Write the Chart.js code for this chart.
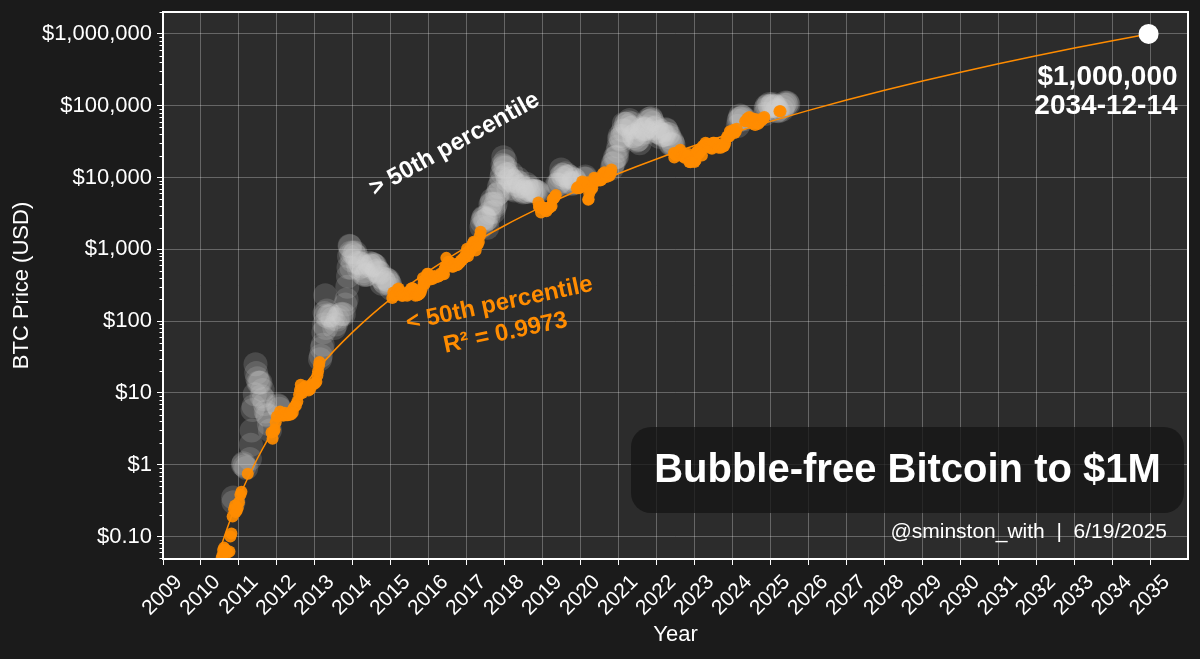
<!DOCTYPE html>
<html lang="en">
<head>
  <meta charset="UTF-8" />
  <script src="https://cdn.jsdelivr.net/npm/chart.js"></script>
  <title>Bubble-free Bitcoin to $1M</title>
  <style>
    html, body { margin: 0; padding: 0; background: #1b1b1b; }
    #wrap { width: 1200px; height: 659px; position: relative; }
  </style>
</head>
<body>
  <div id="wrap"><canvas id="grafico"></canvas></div>
  <script>
    // Precio BTC por debajo del percentil 50 (naranja)
    const belowMedian = [
      ["2010-07-17",0.05],["2010-07-25",0.055],["2010-08-01",0.065],["2010-08-10",0.07],["2010-08-20",0.066],
      ["2010-09-01",0.062],["2010-09-15",0.06],["2010-10-01",0.062],["2010-10-10",0.10],["2010-10-20",0.11],
      ["2010-11-01",0.19],["2010-11-15",0.24],["2010-11-25",0.27],["2010-12-01",0.22],["2010-12-10",0.23],
      ["2010-12-20",0.25],["2011-01-01",0.30],["2011-01-15",0.38],["2011-01-25",0.42],["2011-03-25",0.75],
      ["2011-11-10",2.8],["2011-11-20",2.3],["2011-12-01",2.9],["2011-12-10",3.1],["2011-12-20",3.9],
      ["2012-01-01",4.7],["2012-02-01",5.5],["2012-02-15",4.9],["2012-03-01",4.8],["2012-03-15",5.3],
      ["2012-04-01",4.9],["2012-04-15",4.9],["2012-05-01",5.0],["2012-05-15",5.0],["2012-06-01",5.3],
      ["2012-06-15",6.3],["2012-07-01",6.7],["2012-07-15",7.6],["2012-08-01",9.4],["2012-08-10",11],
      ["2012-08-17",13],["2012-08-25",10.5],["2012-09-01",10],["2012-09-15",11.8],["2012-10-01",12.4],
      ["2012-10-15",11.8],["2012-11-01",10.8],["2012-11-15",11.2],["2012-12-01",12.6],["2012-12-15",13.3],
      ["2013-01-01",13.5],["2013-01-15",14.3],["2013-01-25",17.5],["2013-02-01",20],["2013-02-10",24],
      ["2013-02-15",27],
      ["2015-01-15",210],["2015-01-25",250],["2015-02-05",225],["2015-02-15",235],["2015-02-25",240],
      ["2015-03-05",275],["2015-03-15",285],["2015-03-25",250],["2015-04-05",255],["2015-04-15",225],
      ["2015-04-25",225],["2015-05-05",240],["2015-05-15",237],["2015-05-25",240],["2015-06-05",225],
      ["2015-06-15",235],["2015-06-25",245],["2015-07-05",260],["2015-07-15",285],["2015-07-25",290],
      ["2015-08-05",280],["2015-08-15",260],["2015-08-25",225],["2015-09-05",235],["2015-09-15",230],
      ["2015-09-25",235],["2015-10-05",240],["2015-10-15",255],["2015-10-25",285],["2015-11-05",400],
      ["2015-11-12",340],["2015-11-20",325],["2015-11-28",360],["2015-12-05",390],["2015-12-15",455],
      ["2015-12-25",455],["2016-01-05",430],["2016-01-15",380],["2016-01-25",395],["2016-02-05",385],
      ["2016-02-15",405],["2016-02-25",425],["2016-03-05",410],["2016-03-15",415],["2016-03-25",415],
      ["2016-04-05",420],["2016-04-15",430],["2016-04-25",460],["2016-05-05",450],["2016-05-15",455],
      ["2016-05-25",450],["2016-06-01",535],["2016-06-10",575],["2016-06-17",760],["2016-06-25",620],
      ["2016-07-05",670],["2016-07-15",665],["2016-07-25",655],["2016-08-05",580],["2016-08-15",570],
      ["2016-08-25",575],["2016-09-05",610],["2016-09-15",610],["2016-09-25",600],["2016-10-05",610],
      ["2016-10-15",640],["2016-10-25",655],["2016-11-05",700],["2016-11-15",710],["2016-11-25",740],
      ["2016-12-05",765],["2016-12-15",780],["2016-12-25",890],["2017-01-03",1020],["2017-01-12",800],
      ["2017-01-20",895],["2017-01-28",920],["2017-02-05",1020],["2017-02-15",1010],["2017-02-25",1180],
      ["2017-03-05",1270],["2017-03-15",1240],["2017-03-25",960],["2017-04-05",1130],["2017-04-15",1180],
      ["2017-04-25",1260],["2017-05-05",1550],["2017-05-12",1750],
      ["2018-11-20",4500],["2018-11-25",3900],["2018-12-05",3800],["2018-12-15",3250],["2018-12-25",3900],
      ["2019-01-05",3800],["2019-01-15",3600],["2019-01-25",3550],["2019-02-05",3400],["2019-02-15",3600],
      ["2019-02-25",3800],["2019-03-05",3800],["2019-03-15",3900],["2019-03-25",4000],["2019-04-05",5000],
      ["2019-04-15",5100],["2019-04-25",5400],["2019-05-05",5700],
      ["2019-11-25",7100],["2019-12-05",7400],["2019-12-15",7100],["2019-12-25",7300],["2020-01-05",7400],
      ["2020-01-15",8800],["2020-01-25",8400],["2020-03-01",8600],["2020-03-08",8000],["2020-03-12",4900],
      ["2020-03-16",5000],["2020-03-22",6000],["2020-04-01",6600],["2020-04-10",6900],["2020-04-20",7100],
      ["2020-04-30",8700],["2020-05-08",9900],["2020-05-15",9300],["2020-05-25",8900],["2020-06-05",9700],
      ["2020-06-15",9400],["2020-06-25",9200],["2020-07-05",9100],["2020-07-15",9200],["2020-07-25",9600],
      ["2020-08-01",11300],["2020-08-15",11800],["2020-08-25",11400],["2020-09-05",10200],["2020-09-15",10900],
      ["2020-09-25",10700],["2020-10-05",10600],["2020-10-15",11500],["2020-10-22",12900],
      ["2022-06-14",22000],["2022-06-18",19000],["2022-06-25",21200],["2022-07-05",20200],["2022-07-15",20800],
      ["2022-07-25",22600],["2022-08-05",22900],["2022-08-15",24300],["2022-08-25",21500],["2022-09-05",19800],
      ["2022-09-15",19700],["2022-09-25",18800],["2022-10-05",20300],["2022-10-15",19100],["2022-10-25",20100],
      ["2022-11-05",21300],["2022-11-10",16500],["2022-11-20",16300],["2022-11-30",17100],["2022-12-10",17100],
      ["2022-12-20",16800],["2022-12-30",16500],["2023-01-10",17400],["2023-01-20",22700],["2023-01-30",23100],
      ["2023-02-10",21600],["2023-02-20",24800],["2023-03-01",23600],["2023-03-10",20200],["2023-03-18",27400],
      ["2023-03-28",27100],["2023-04-05",28200],["2023-04-14",30500],["2023-04-25",28300],["2023-05-05",29500],
      ["2023-05-15",27200],["2023-05-25",26500],["2023-06-05",25700],["2023-06-15",25100],["2023-06-25",30500],
      ["2023-07-05",30500],["2023-07-15",30300],["2023-07-25",29200],["2023-08-05",29000],["2023-08-18",26000],
      ["2023-08-30",27300],["2023-09-10",25900],["2023-09-20",27100],["2023-09-30",27000],["2023-10-10",27400],
      ["2023-10-20",29700],["2023-10-30",34500],["2023-11-10",37300],["2023-11-20",37400],["2023-11-30",37700],
      ["2023-12-05",44000],["2023-12-15",42000],["2023-12-25",43000],["2024-01-05",44100],["2024-01-11",46300],
      ["2024-01-20",41600],["2024-01-30",43300],["2024-02-10",47700],
      ["2024-04-30",60600],["2024-05-10",60800],["2024-05-20",66000],["2024-05-30",67500],["2024-06-10",69500],
      ["2024-06-20",64900],["2024-06-30",62700],["2024-07-05",56700],["2024-07-15",64700],["2024-07-25",65800],
      ["2024-08-05",54000],["2024-08-15",57600],["2024-08-25",64200],["2024-09-05",56200],["2024-09-15",59100],
      ["2024-09-25",64100],["2024-10-05",62100],["2024-10-15",67000],["2024-10-25",66600],["2024-11-01",69400],
      ["2025-03-25",84000],["2025-04-05",83500]
    ];

    // Precio BTC por encima del percentil 50 (gris)
    const aboveMedian = [
      ["2010-11-06",0.35],["2010-11-09",0.30],["2011-02-09",1.0],["2011-02-15",1.05],["2011-02-25",0.95],
      ["2011-03-10",0.9],["2011-04-15",1.2],["2011-04-25",1.9],["2011-05-01",3.0],["2011-05-10",5.8],
      ["2011-05-20",6.5],["2011-06-01",9.6],["2011-06-08",25],["2011-06-15",19],["2011-06-25",16],
      ["2011-07-05",14],["2011-07-15",13.8],["2011-07-25",14],["2011-08-05",9],["2011-08-15",11],
      ["2011-08-25",8.2],["2011-09-05",7],["2011-09-15",5.5],["2011-09-25",5],["2011-10-05",4.8],
      ["2011-10-15",3.7],["2011-10-25",3.0],["2012-01-08",6.8],["2012-01-15",6.5],["2012-01-25",6.0],
      ["2013-02-20",29.5],["2013-02-28",33],["2013-03-07",42],["2013-03-15",47],["2013-03-22",70],
      ["2013-03-29",90],["2013-04-03",130],["2013-04-09",230],["2013-04-12",120],["2013-04-17",80],
      ["2013-04-25",140],["2013-05-05",115],["2013-05-20",122],["2013-06-05",120],["2013-06-20",108],
      ["2013-07-05",80],["2013-07-20",90],["2013-08-05",105],["2013-08-20",115],["2013-09-05",125],
      ["2013-09-20",127],["2013-10-05",125],["2013-10-20",170],["2013-11-01",200],["2013-11-08",300],
      ["2013-11-15",420],["2013-11-20",560],["2013-11-25",800],["2013-11-30",1120],["2013-12-05",1100],
      ["2013-12-10",900],["2013-12-18",550],["2013-12-25",700],["2014-01-05",900],["2014-01-15",850],
      ["2014-01-25",900],["2014-02-05",800],["2014-02-15",650],["2014-02-25",550],["2014-03-05",650],
      ["2014-03-15",630],["2014-03-25",580],["2014-04-05",460],["2014-04-15",500],["2014-04-25",440],
      ["2014-05-05",440],["2014-05-15",450],["2014-05-25",570],["2014-06-05",650],["2014-06-15",600],
      ["2014-06-25",590],["2014-07-05",630],["2014-07-15",620],["2014-07-25",600],["2014-08-05",590],
      ["2014-08-15",500],["2014-08-25",510],["2014-09-05",480],["2014-09-15",470],["2014-09-25",410],
      ["2014-10-05",330],["2014-10-15",390],["2014-10-25",355],["2014-11-05",340],["2014-11-15",390],
      ["2014-11-25",375],["2014-12-05",375],["2014-12-15",345],["2014-12-25",320],["2015-01-05",280],
      ["2017-05-20",2050],["2017-05-25",2400],["2017-06-05",2700],["2017-06-12",2800],["2017-06-20",2700],
      ["2017-06-28",2550],["2017-07-05",2600],["2017-07-15",2000],["2017-07-25",2700],["2017-08-05",3200],
      ["2017-08-15",4200],["2017-08-25",4350],["2017-09-01",4900],["2017-09-10",4300],["2017-09-15",3300],
      ["2017-09-25",3900],["2017-10-05",4300],["2017-10-15",5700],["2017-10-25",5900],["2017-11-05",7400],
      ["2017-11-12",6300],["2017-11-20",8200],["2017-11-28",9900],["2017-12-05",11700],["2017-12-10",15000],
      ["2017-12-17",19100],["2017-12-22",13800],["2017-12-28",14500],["2018-01-06",17000],["2018-01-12",13800],
      ["2018-01-17",11200],["2018-01-25",11100],["2018-02-01",9100],["2018-02-06",7000],["2018-02-15",10000],
      ["2018-02-25",9600],["2018-03-05",11500],["2018-03-12",9100],["2018-03-20",8900],["2018-03-30",6900],
      ["2018-04-06",6600],["2018-04-15",8000],["2018-04-25",8900],["2018-05-05",9700],["2018-05-15",8500],
      ["2018-05-25",7500],["2018-06-05",7600],["2018-06-15",6500],["2018-06-25",6200],["2018-07-05",6600],
      ["2018-07-15",6300],["2018-07-25",8200],["2018-08-05",7000],["2018-08-15",6300],["2018-08-25",6700],
      ["2018-09-05",7400],["2018-09-15",6500],["2018-09-25",6500],["2018-10-05",6600],["2018-10-15",6500],
      ["2018-10-25",6450],["2018-11-05",6400],["2018-11-14",6300],
      ["2019-05-15",8000],["2019-05-25",8000],["2019-06-05",7800],["2019-06-15",8800],["2019-06-22",10200],
      ["2019-06-26",12900],["2019-07-05",11000],["2019-07-15",10800],["2019-07-25",9800],["2019-08-05",11500],
      ["2019-08-15",10300],["2019-08-25",10100],["2019-09-05",10600],["2019-09-15",10300],["2019-09-25",8500],
      ["2019-10-05",8100],["2019-10-15",8400],["2019-10-26",9500],["2019-11-05",9300],["2019-11-15",8500],
      ["2020-02-05",9700],["2020-02-15",10300],["2020-02-22",9700],
      ["2020-10-28",13500],["2020-11-05",15500],["2020-11-15",16000],["2020-11-25",19000],["2020-12-05",19100],
      ["2020-12-15",19400],["2020-12-20",23500],["2020-12-28",27000],["2021-01-05",34000],["2021-01-10",38000],
      ["2021-01-20",35000],["2021-01-28",33000],["2021-02-05",38000],["2021-02-10",45000],["2021-02-20",56000],
      ["2021-02-28",45000],["2021-03-10",56000],["2021-03-15",56000],["2021-03-25",52000],["2021-04-05",59000],
      ["2021-04-14",63500],["2021-04-25",49000],["2021-05-05",57000],["2021-05-12",50000],["2021-05-19",38000],
      ["2021-05-25",38000],["2021-06-05",35500],["2021-06-15",40000],["2021-06-22",32500],["2021-07-01",33500],
      ["2021-07-10",33800],["2021-07-20",30000],["2021-07-30",40000],["2021-08-10",46000],["2021-08-20",49000],
      ["2021-08-30",47000],["2021-09-07",47000],["2021-09-15",48000],["2021-09-25",42700],["2021-10-05",51500],
      ["2021-10-15",61000],["2021-10-20",66000],["2021-10-30",61800],["2021-11-08",67500],["2021-11-15",64000],
      ["2021-11-25",58000],["2021-12-05",49000],["2021-12-15",48500],["2021-12-25",50800],["2022-01-05",43500],
      ["2022-01-15",43000],["2022-01-25",36900],["2022-02-05",41500],["2022-02-15",44500],["2022-02-25",39000],
      ["2022-03-05",39000],["2022-03-15",39300],["2022-03-28",47000],["2022-04-05",45500],["2022-04-15",40500],
      ["2022-04-25",40400],["2022-05-05",36500],["2022-05-12",29000],["2022-05-20",29200],["2022-05-30",31700],
      ["2022-06-05",29900],["2022-06-11",28400],
      ["2024-02-20",52000],["2024-02-28",62000],["2024-03-05",66000],["2024-03-14",73000],["2024-03-20",67000],
      ["2024-03-30",69700],["2024-04-10",68900],["2024-04-20",64900],
      ["2024-11-08",76500],["2024-11-13",90000],["2024-11-22",98000],["2024-12-05",98800],["2024-12-17",106000],
      ["2024-12-25",98700],["2025-01-05",98300],["2025-01-15",99900],["2025-01-22",106000],["2025-02-01",100600],
      ["2025-02-10",97400],["2025-02-20",98300],["2025-02-28",84300],["2025-03-05",87200],["2025-03-15",84000],
      ["2025-04-20",87500],["2025-05-01",96500],["2025-05-10",104000],["2025-05-22",111000],["2025-05-30",103900],
      ["2025-06-10",110000],["2025-06-18",104500]
    ];

    // Curva de ajuste (ley de potencia)
    const fitYears  = [2010.4, 2010.5, 2010.625, 2010.75, 2010.875, 2011, 2011.25, 2011.5, 2011.75, 2012,
                       2012.25, 2012.5, 2012.75, 2013, 2013.5, 2014, 2014.5, 2015, 2016, 2017, 2018, 2019,
                       2020, 2021, 2022, 2023, 2024, 2025, 2026, 2027, 2028, 2029, 2030, 2031, 2032, 2033,
                       2034, 2034.95];
    const fitPrices = [0.043, 0.0647, 0.103, 0.159, 0.237, 0.345, 0.684, 1.26, 2.20, 3.65,
                       5.79, 8.93, 13.3, 19.4, 38.5, 70.8, 123, 204, 500, 1084, 2148, 3955,
                       6875, 11400, 18150, 27870, 41600, 60560, 86070, 119900, 164000, 220800, 293100, 383700, 496900, 636400,
                       805400, 1000000];

    const milestoneDate = "2034-12-14";
    const milestonePrice = 1000000;

    const yearTicks = [];
    for (let y = 2009; y <= 2035; y++) yearTicks.push(y);
    const priceTicks = [0.1, 1, 10, 100, 1000, 10000, 100000, 1000000];

    function aAnio(fecha) {
      const p = fecha.split('-').map(Number);
      return p[0] + (p[1] - 1) / 12 + ((p[2] || 1) - 1) / 365;
    }
    const aPuntos = arr => arr.map(d => ({ x: aAnio(d[0]), y: d[1] }));

    function etiquetaPrecio(v) {
      if (v < 1) return '$' + v.toFixed(2);
      return '$' + v.toLocaleString('en-US');
    }

    const FONT = "'Liberation Sans', Arial, Helvetica, sans-serif";
    const NARANJA = '#ff8c00';

    const decoracion = {
      id: 'decoracion',
      beforeDraw(chart) {
        const { ctx, chartArea: a } = chart;
        ctx.save();
        ctx.fillStyle = '#1b1b1b';
        ctx.fillRect(0, 0, chart.width, chart.height);
        ctx.fillStyle = '#2c2c2c';
        ctx.fillRect(a.left, a.top, a.right - a.left, a.bottom - a.top);
        ctx.restore();
      },
      afterDraw(chart) {
        const { ctx, chartArea: a } = chart;
        const xs = chart.scales.x, ys = chart.scales.y;
        ctx.save();

        // marcas menores eje y
        ctx.strokeStyle = '#ffffff';
        ctx.lineWidth = 1;
        for (let e = -2; e <= 6; e++) {
          for (let m = 2; m <= 9; m++) {
            const v = m * Math.pow(10, e);
            if (v < ys.min || v > ys.max) continue;
            const py = Math.round(ys.getPixelForValue(v)) + 0.5;
            ctx.beginPath();
            ctx.moveTo(a.left - 3.5, py);
            ctx.lineTo(a.left, py);
            ctx.stroke();
          }
        }

        // borde del area
        ctx.strokeStyle = '#ffffff';
        ctx.lineWidth = 2;
        ctx.strokeRect(a.left, a.top, a.right - a.left, a.bottom - a.top);

        // textos de percentiles
        ctx.textAlign = 'center';
        ctx.textBaseline = 'middle';
        ctx.font = 'bold 24px ' + FONT;
        ctx.fillStyle = '#ffffff';
        ctx.save();
        ctx.translate(xs.getPixelForValue(2016.68), ys.getPixelForValue(29000));
        ctx.rotate(-29 * Math.PI / 180);
        ctx.fillText('> 50th percentile', 0, 0);
        ctx.restore();

        ctx.fillStyle = NARANJA;
        ctx.save();
        ctx.translate(xs.getPixelForValue(2017.94), ys.getPixelForValue(109));
        ctx.rotate(-12 * Math.PI / 180);
        ctx.fillText('< 50th percentile', 0, -15);
        ctx.fillText('R\u00B2 = 0.9973', 0, 15);
        ctx.restore();

        // etiqueta del hito
        const mx = xs.getPixelForValue(aAnio(milestoneDate));
        const my = ys.getPixelForValue(milestonePrice);
        ctx.fillStyle = '#ffffff';
        ctx.textAlign = 'right';
        ctx.font = 'bold 28px ' + FONT;
        ctx.fillText('$1,000,000', mx + 29, my + 43);
        ctx.fillText(milestoneDate, mx + 29, my + 72);

        // caja de titulo
        const bx = a.left + 468, bw = 553, by = a.bottom - 132, bh = 86;
        ctx.fillStyle = 'rgba(20,20,20,0.75)';
        ctx.beginPath();
        ctx.roundRect(bx, by, bw, bh, 20);
        ctx.fill();
        ctx.fillStyle = '#ffffff';
        ctx.textAlign = 'center';
        ctx.font = 'bold 40px ' + FONT;
        ctx.fillText('Bubble-free Bitcoin to $1M', bx + bw / 2, by + bh / 2 + 1);

        ctx.textAlign = 'right';
        ctx.font = '21px ' + FONT;
        ctx.fillText('@sminston_with  |  6/19/2025', a.right - 21, a.bottom - 27);
        ctx.restore();
      }
    };

    const ctx = document.getElementById('grafico').getContext('2d');
    new Chart(ctx, {
      type: 'scatter',
      data: {
        datasets: [
          {
            label: 'milestone',
            data: [{ x: aAnio(milestoneDate), y: milestonePrice }],
            backgroundColor: '#ffffff',
            borderWidth: 0,
            pointRadius: 10
          },
          {
            label: 'fit',
            data: fitYears.map((x, i) => ({ x: x, y: fitPrices[i] })),
            showLine: true,
            borderColor: NARANJA,
            borderWidth: 1.5,
            pointRadius: 0,
            cubicInterpolationMode: 'monotone'
          },
          {
            label: '< 50th percentile',
            data: aPuntos(belowMedian),
            backgroundColor: 'rgba(255,140,0,0.92)',
            borderWidth: 0,
            pointRadius: 6
          },
          {
            label: '> 50th percentile',
            data: aPuntos(aboveMedian),
            backgroundColor: 'rgba(210,210,210,0.18)',
            borderWidth: 0,
            pointRadius: 12
          }
        ]
      },
      options: {
        responsive: true,
        maintainAspectRatio: false,
        animation: false,
        events: [],
        layout: { padding: { top: 10, right: 10, left: 0, bottom: 0 } },
        plugins: { legend: { display: false }, tooltip: { enabled: false } },
        scales: {
          x: {
            type: 'linear',
            min: 2009,
            max: 2035.99,
            afterBuildTicks: s => { s.ticks = yearTicks.map(v => ({ value: v })); },
            afterFit: s => { s.height = 100; s.paddingLeft = 0; s.paddingRight = 0; },
            grid: { color: 'rgba(255,255,255,0.28)', tickColor: '#ffffff', tickLength: 6 },
            border: { display: false },
            ticks: {
              color: '#ffffff',
              font: { family: FONT, size: 21 },
              minRotation: 45,
              maxRotation: 45,
              autoSkip: false,
              labelOffset: 16,
              padding: 5,
              callback: v => String(v)
            },
            title: {
              display: true,
              text: 'Year',
              color: '#ffffff',
              font: { family: FONT, size: 22 },
              padding: { top: 0, bottom: 11 }
            }
          },
          y: {
            type: 'logarithmic',
            min: 0.0486,
            max: 2020000,
            afterBuildTicks: s => { s.ticks = priceTicks.map(v => ({ value: v, major: true })); },
            afterFit: s => { s.width = 163; s.paddingTop = 0; s.paddingBottom = 0; },
            grid: { color: 'rgba(255,255,255,0.28)', tickColor: '#ffffff', tickLength: 6 },
            border: { display: false },
            ticks: {
              color: '#ffffff',
              font: { family: FONT, size: 22 },
              padding: 5,
              callback: v => etiquetaPrecio(v)
            },
            title: {
              display: true,
              text: 'BTC Price (USD)',
              color: '#ffffff',
              font: { family: FONT, size: 22 },
              padding: { top: 9, bottom: 0 }
            }
          }
        }
      },
      plugins: [decoracion]
    });
  </script>
</body>
</html>
